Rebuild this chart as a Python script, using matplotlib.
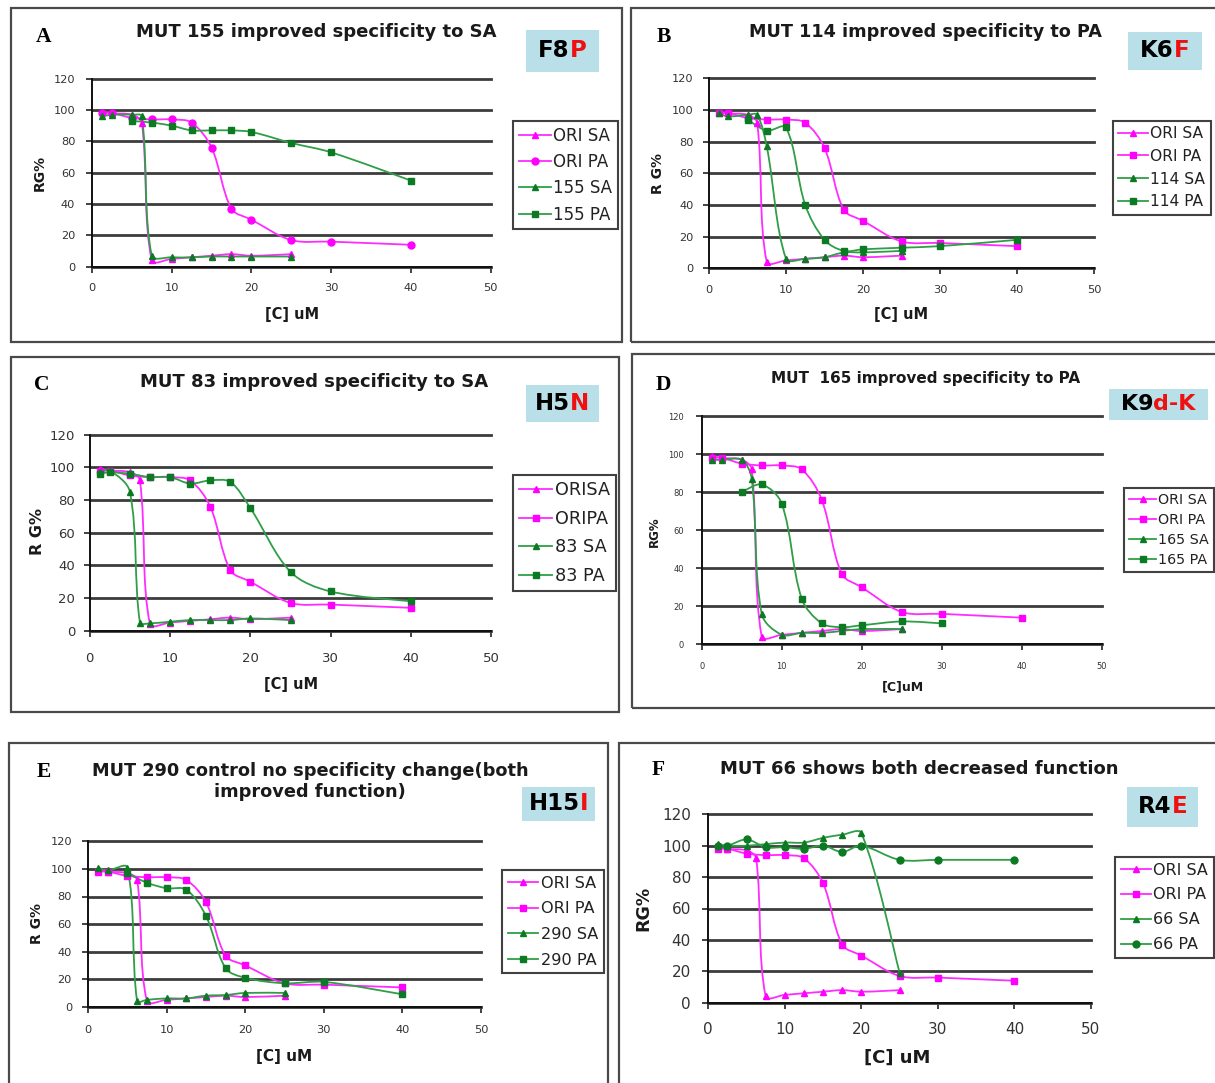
import numpy as np
import matplotlib.pyplot as plt
from matplotlib.path import Path
from matplotlib.patches import PathPatch, Rectangle
from matplotlib.lines import Line2D
from matplotlib.offsetbox import TextArea, HPacker, AnchoredOffsetbox

plt.rcParams['font.family'] = ['DejaVu Sans']

W, H = 1215, 1083

# concentrations, uM
conc_sa = [1.25, 2.5, 5, 6.25, 7.5, 10, 12.5, 15, 17.5, 20, 25]
conc_pa = [1.25, 2.5, 5, 7.5, 10, 12.5, 15, 17.5, 20, 25, 30, 40]

# original enzyme, RG%
ori_sa = [99, 98, 97, 92, 4, 5, 6, 7, 8, 7, 8]
ori_pa = [98, 98, 95, 94, 94, 92, 76, 37, 30, 17, 16, 14]

# MUT 155
mut155_sa = [96, 97, 97, 96, 7, 6, 6, 6.5, 6.5, 6.5, 6.5]
mut155_pa_x = [5, 7.5, 10, 12.5, 15, 17.5, 20, 25, 30, 40]
mut155_pa = [93, 92, 90, 87, 87, 87, 86, 79, 73, 55]

# MUT 114
mut114_sa = [98, 96, 97, 97, 77, 6, 6, 7, 10, 10, 11]
mut114_pa_x = [5, 7.5, 10, 12.5, 15, 17.5, 20, 25, 30, 40]
mut114_pa = [94, 87, 89, 40, 18, 11, 12, 13, 14, 18]

# MUT 83
mut83_sa = [97, 98, 85, 5, 4.5, 5.5, 6.5, 6.5, 6.5, 7.5, 6.5]
mut83_pa_x = [1.25, 2.5, 5, 7.5, 10, 12.5, 15, 17.5, 20, 25, 30, 40]
mut83_pa = [96, 97, 96, 94, 94, 90, 92, 91, 75, 36, 24, 18]

# MUT 165
mut165_sa = [97, 97, 97, 87, 16, 5, 6, 6, 7, 8, 8]
mut165_pa_x = [5, 7.5, 10, 12.5, 15, 17.5, 20, 25, 30]
mut165_pa = [80, 84, 74, 24, 11, 9, 10, 12, 11]

# MUT 290
mut290_sa = [101, 99, 101, 4, 5, 6, 6, 8, 8.5, 10, 10]
mut290_pa_x = [5, 7.5, 10, 12.5, 15, 17.5, 20, 25, 30, 40]
mut290_pa = [97, 90, 86, 85, 66, 28, 21, 17, 18, 9]

# MUT 66
mut66_sa_x = [1.25, 2.5, 5, 7.5, 10, 12.5, 15, 17.5, 20, 25]
mut66_sa = [101, 100, 100, 101, 102, 102, 105, 107, 108, 19]
mut66_pa = [100, 100, 104, 99, 99, 98, 100, 96, 100, 91, 91, 91]

x_ticks = [0, 10, 20, 30, 40, 50]
y_ticks = [0, 20, 40, 60, 80, 100, 120]

MAG = '#ff2bff'
MAG_M = '#ff00ff'
GRN = '#2f9e47'
GRN_M = '#0b7a22'

fig = plt.figure(figsize=(W / 100, H / 100), dpi=100)


def fx(px):
    return px / W


def fy(py):
    return 1 - py / H


def smooth_path(ax, xs, ys, f=1 / 3):
    # spreadsheet-style smoothed line: cubic Bezier through every point
    pts = ax.transData.transform(np.column_stack([xs, ys]))
    n = len(pts)
    tang = [pts[min(i + 1, n - 1)] - pts[max(i - 1, 0)] for i in range(n)]
    verts, codes = [pts[0]], [Path.MOVETO]
    for i in range(n - 1):
        p0, p1 = pts[i], pts[i + 1]
        d = np.hypot(*(p1 - p0))
        d_prev = np.hypot(*(p0 - pts[i - 1])) if i > 0 else d
        d_next = np.hypot(*(pts[i + 2] - p1)) if i + 2 < n else d
        c1 = p0 + tang[i] * f * d / max(d_prev + d, 1e-9)
        c2 = p1 - tang[i + 1] * f * d / max(d + d_next, 1e-9)
        verts += [c1, c2, p1]
        codes += [Path.CURVE4] * 3
    verts = ax.transData.inverted().transform(np.array(verts))
    return Path(verts, codes)


def frame(l, t, r, b):
    fig.patches.append(Rectangle((fx(l), fy(b)), fx(r) - fx(l), fy(t) - fy(b),
                                 transform=fig.transFigure, fill=False,
                                 edgecolor='#4a4a4a', lw=1.6))


def tag_box(l, t, r, b, black, red, size):
    fig.patches.append(Rectangle((fx(l), fy(b)), fx(r) - fx(l), fy(t) - fy(b),
                                 transform=fig.transFigure, facecolor='#b9dfe8',
                                 edgecolor='none'))
    parts = HPacker(children=[
        TextArea(black, textprops=dict(color='black', fontsize=size, fontweight='bold')),
        TextArea(red, textprops=dict(color='#ee1111', fontsize=size, fontweight='bold')),
    ], align='center', pad=0, sep=0)
    box = AnchoredOffsetbox(loc='center', child=parts, frameon=False, pad=0, borderpad=0,
                            bbox_to_anchor=(fx((l + r) / 2), fy((t + b) / 2)),
                            bbox_transform=fig.transFigure)
    fig.add_artist(box)


def panel(p):
    l, r, t, b = p['axes']
    ax = fig.add_axes([fx(l), fy(b), fx(r) - fx(l), fy(t) - fy(b)])
    ax.set_xlim(0, 50)
    ax.set_ylim(0, 120)
    ax.set_xticks(x_ticks)
    ax.set_yticks(y_ticks)
    xpad, ypad = p['pads']
    ax.tick_params(labelsize=p['tick_fs'], colors='#222', labelcolor='#333',
                   length=4, width=1.2)
    ax.tick_params(axis='x', pad=xpad)
    ax.tick_params(axis='y', pad=ypad)
    for s in ('top', 'right'):
        ax.spines[s].set_visible(False)
    for s in ('left', 'bottom'):
        ax.spines[s].set_linewidth(1.4)
        ax.spines[s].set_color('#111')
    ax.yaxis.grid(True, color='#3c3c3c', lw=2.0)
    for gl in ax.get_ygridlines():
        gl.set_clip_on(False)
    ax.set_axisbelow(True)

    handles = []
    for xs, ys, col, mcol, mk, lab in p['series']:
        ax.add_patch(PathPatch(smooth_path(ax, xs, ys), fill=False, edgecolor=col,
                               lw=1.3, clip_on=False, zorder=3))
        ax.plot(xs, ys, ls='none', marker=mk, ms=p['ms'], color=mcol, clip_on=False, zorder=4)
        handles.append(Line2D([], [], color=col, lw=1.3, marker=mk, ms=p['ms'],
                              mfc=mcol, mec=mcol, label=lab))

    ll, lt = p['legend_at']
    leg = ax.legend(handles=handles, loc='upper left', bbox_to_anchor=(fx(ll), fy(lt)),
                    bbox_transform=fig.transFigure, fontsize=p['leg_fs'], frameon=True,
                    fancybox=False, edgecolor='#111', borderpad=0.35,
                    labelspacing=p['leg_sp'], handlelength=1.9, handletextpad=0.15,
                    borderaxespad=0)
    leg.get_frame().set_linewidth(1.5)
    for t in leg.get_texts():
        t.set_color('#222')

    lx, ly = p['letter_at']
    fig.text(fx(lx), fy(ly), p['letter'], ha='center', va='center', fontsize=15.5,
             fontweight='bold', family=['Liberation Serif', 'DejaVu Serif'])
    tx, ty = p['title_at']
    fig.text(fx(tx), fy(ty), p['title'], ha='center', va='center', fontsize=p['title_fs'],
             fontweight='bold', color='#1a1a1a', linespacing=1.25)
    xx, xy = p['xlabel_at']
    fig.text(fx(xx), fy(xy), p['xlabel'], ha='center', va='center',
             fontsize=p['xlab_fs'], fontweight='bold', color='#1a1a1a')
    yx, yy = p['ylabel_at']
    fig.text(fx(yx), fy(yy), p['ylabel'], ha='center', va='center', rotation=90,
             fontsize=p['ylab_fs'], fontweight='bold', color='#1a1a1a')
    tag_box(*p['tag_box'], *p['tag'], size=p['tag_fs'])
    frame(*p['frame'])


def ori(extra_sa, extra_pa, pa_marker='s'):
    return [(conc_sa, ori_sa, MAG, MAG_M, '^', 'ORI SA'),
            (conc_pa, ori_pa, MAG, MAG_M, pa_marker, 'ORI PA'),
            extra_sa, extra_pa]


panels = [
    dict(letter='A', title='MUT 155 improved specificity to SA', tag=('F8', 'P'),
         axes=(92, 490.5, 78.7, 266.7), frame=(11, 8, 622, 342),
         series=[(conc_sa, ori_sa, MAG, MAG_M, '^', 'ORI SA'),
                 (conc_pa, ori_pa, MAG, MAG_M, 'o', 'ORI PA'),
                 (conc_sa, mut155_sa, GRN, GRN_M, '^', '155 SA'),
                 (mut155_pa_x, mut155_pa, GRN, GRN_M, 's', '155 PA')],
         letter_at=(43.5, 37), title_at=(316, 32), xlabel='[C] uM', xlabel_at=(292.5, 315),
         ylabel='RG%', ylabel_at=(39.5, 173), tag_box=(525.7, 30, 598.8, 71.7),
         legend_at=(513, 120.7), tick_fs=8.2, title_fs=13, xlab_fs=10.5, ylab_fs=10,
         leg_fs=12, leg_sp=0.5, ms=5, pads=(8, 8), tag_fs=16.5),
    dict(letter='B', title='MUT 114 improved specificity to PA', tag=('K6', 'F'),
         axes=(709, 1094, 78.4, 268.3), frame=(631, 8, 1230, 342),
         series=ori((conc_sa, mut114_sa, GRN, GRN_M, '^', '114 SA'),
                    (mut114_pa_x, mut114_pa, GRN, GRN_M, 's', '114 PA')),
         letter_at=(663.6, 37), title_at=(925.5, 32), xlabel='[C] uM', xlabel_at=(901, 315),
         ylabel='R G%', ylabel_at=(658, 173), tag_box=(1127.8, 31.7, 1201.8, 70),
         legend_at=(1113, 120.7), tick_fs=8.2, title_fs=12.7, xlab_fs=10.5, ylab_fs=10,
         leg_fs=11.2, leg_sp=0.5, ms=5, pads=(8, 7), tag_fs=16.5),
    dict(letter='C', title='MUT 83 improved specificity to SA', tag=('H5', 'N'),
         axes=(89.7, 491.4, 434.6, 630.7), frame=(11, 357, 619, 712),
         series=[(conc_sa, ori_sa, MAG, MAG_M, '^', 'ORISA'),
                 (conc_pa, ori_pa, MAG, MAG_M, 's', 'ORIPA'),
                 (conc_sa, mut83_sa, GRN, GRN_M, '^', '83 SA'),
                 (mut83_pa_x, mut83_pa, GRN, GRN_M, 's', '83 PA')],
         letter_at=(41.5, 385), title_at=(314, 382), xlabel='[C] uM', xlabel_at=(291, 685),
         ylabel='R G%', ylabel_at=(37.5, 531.7), tag_box=(525.7, 385, 598.8, 422.3),
         legend_at=(512.6, 475), tick_fs=9.5, title_fs=13, xlab_fs=10.5, ylab_fs=11.5,
         leg_fs=12.7, leg_sp=0.6, ms=5, pads=(11, 6.5), tag_fs=16.5),
    dict(letter='D', title='MUT  165 improved specificity to PA', tag=('K9', 'd-K'),
         axes=(701.7, 1101.7, 416, 644.3), frame=(632, 354.3, 1230, 707.7),
         series=ori((conc_sa, mut165_sa, GRN, GRN_M, '^', '165 SA'),
                    (mut165_pa_x, mut165_pa, GRN, GRN_M, 's', '165 PA')),
         letter_at=(663.6, 385), title_at=(925.5, 378.3), xlabel='[C]uM', xlabel_at=(902.7, 686.7),
         ylabel='RG%', ylabel_at=(654, 531.7), tag_box=(1108.8, 389, 1207.5, 420),
         legend_at=(1124, 487.7), tick_fs=6, title_fs=11, xlab_fs=9, ylab_fs=8.5,
         leg_fs=10.3, leg_sp=0.42, ms=4.5, pads=(9, 9), tag_fs=16),
    dict(letter='E', title='MUT 290 control no specificity change(both\nimproved function)',
         tag=('H15', 'I'),
         axes=(88, 481, 841.4, 1006.7), frame=(9, 742.7, 608, 1100),
         series=ori((conc_sa, mut290_sa, GRN, GRN_M, '^', '290 SA'),
                    (mut290_pa_x, mut290_pa, GRN, GRN_M, 's', '290 PA')),
         letter_at=(44, 772), title_at=(310, 781.5), xlabel='[C] uM', xlabel_at=(284, 1056.7),
         ylabel='R G%', ylabel_at=(37, 923), tag_box=(521.6, 787, 595.3, 820.7),
         legend_at=(502, 870), tick_fs=8.2, title_fs=12.8, xlab_fs=11, ylab_fs=10,
         leg_fs=11.6, leg_sp=0.66, ms=5, pads=(9, 7.5), tag_fs=16.5),
    dict(letter='F', title='MUT 66 shows both decreased function', tag=('R4', 'E'),
         axes=(708.3, 1091, 814.3, 1002.7), frame=(618.5, 743.3, 1230, 1100),
         series=ori((mut66_sa_x, mut66_sa, GRN, GRN_M, '^', '66 SA'),
                    (conc_pa, mut66_pa, GRN, GRN_M, 'o', '66 PA')),
         letter_at=(658, 770), title_at=(919, 769.3), xlabel='[C] uM', xlabel_at=(897.6, 1058),
         ylabel='RG%', ylabel_at=(643, 908), tag_box=(1127, 786.7, 1198, 826.7),
         legend_at=(1115, 857), tick_fs=11, title_fs=13, xlab_fs=13, ylab_fs=12.5,
         leg_fs=11.5, leg_sp=0.62, ms=5, pads=(10, 8.5), tag_fs=16.5),
]

for p in panels:
    panel(p)

fig.savefig('out.png', dpi=100, facecolor='white')
